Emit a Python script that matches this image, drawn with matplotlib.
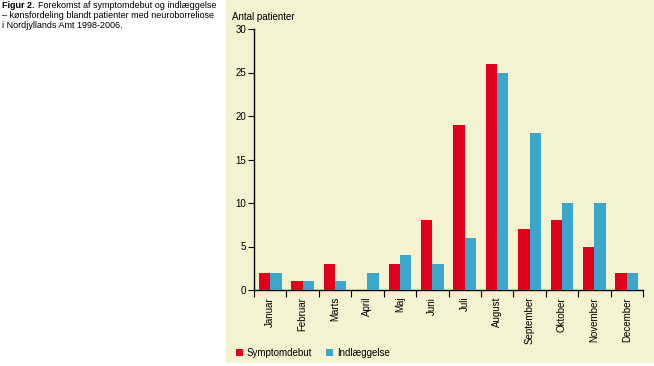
import numpy as np
import matplotlib
matplotlib.use("Agg")
import matplotlib.pyplot as plt
from matplotlib.patches import Rectangle

months = ["Januar", "Februar", "Marts", "April", "Maj", "Juni", "Juli",
          "August", "September", "Oktober", "November", "December"]
symptomdebut = [2, 1, 3, 0, 3, 8, 19, 26, 7, 8, 5, 2]
indlaeggelse = [2, 1, 1, 2, 4, 3, 6, 25, 18, 10, 10, 2]

W, H = 654, 366
RED = "#e0001b"
BLUE = "#3ba7cb"
BEIGE = "#f3f2d1"

plt.rcParams['font.family'] = ['Liberation Sans', 'DejaVu Sans']

fig = plt.figure(figsize=(W / 100, H / 100), dpi=100)
fig.patch.set_facecolor("white")

# beige panel behind the chart
bg = fig.add_axes([226 / W, 1 - 363 / H, (W - 226) / W, 363 / H], zorder=-10)
bg.set_facecolor(BEIGE)
bg.set_xticks([])
bg.set_yticks([])
for s in bg.spines.values():
    s.set_visible(False)

# caption
fs_cap = 6.5
fig.text(2 / W, 1 - 5 / H, "Figur 2.", fontsize=fs_cap, fontweight="bold",
         va="center", ha="left")
fig.text(38 / W, 1 - 5 / H, "Forekomst af symptomdebut og indlæggelse",
         fontsize=fs_cap, va="center", ha="left")
fig.text(2 / W, 1 - 15 / H, "– kønsfordeling blandt patienter med neuroborreliose",
         fontsize=fs_cap, va="center", ha="left")
fig.text(2 / W, 1 - 25 / H, "i Nordjyllands Amt 1998-2006.",
         fontsize=fs_cap, va="center", ha="left")

ax = fig.add_axes([254 / W, 1 - 290 / H, (643 - 254) / W, (290 - 29) / H])
ax.set_facecolor("none")

x = np.arange(len(months))
bw = 0.35
ax.bar(x - bw / 2, symptomdebut, bw, color=RED, edgecolor="none", zorder=3)
ax.bar(x + bw / 2, indlaeggelse, bw, color=BLUE, edgecolor="none", zorder=3)

ax.set_xlim(-0.5, len(months) - 0.5)
ax.set_ylim(0, 30)
ax.set_yticks(range(0, 31, 5))
ax.tick_params(axis="y", labelsize=7, length=4, width=0.8, pad=1.5)

ax.set_xticks(np.arange(-0.5, len(months), 1.0))
ax.set_xticklabels([])
ax.tick_params(axis="x", length=5, width=0.8, direction="out")
ax.set_xticks(x, minor=True)
ax.set_xticklabels(months, minor=True, rotation=90, fontsize=7, va="top")
ax.tick_params(axis="x", which="minor", length=0, pad=5)

for s in ["top", "right"]:
    ax.spines[s].set_visible(False)
ax.spines["left"].set_linewidth(1.0)
ax.spines["bottom"].set_linewidth(1.0)

fig.text(232 / W, 1 - 17 / H, "Antal patienter", fontsize=7, va="center", ha="left")

# legend
fig.patches.append(Rectangle((236 / W, 1 - 356 / H), 7 / W, 7 / H,
                             transform=fig.transFigure, facecolor=RED, edgecolor="none"))
fig.text(247 / W, 1 - 352.5 / H, "Symptomdebut", fontsize=7, va="center", ha="left")
fig.patches.append(Rectangle((326 / W, 1 - 356 / H), 7 / W, 7 / H,
                             transform=fig.transFigure, facecolor=BLUE, edgecolor="none"))
fig.text(337 / W, 1 - 352.5 / H, "Indlæggelse", fontsize=7, va="center", ha="left")

fig.savefig("out.png", dpi=100)
